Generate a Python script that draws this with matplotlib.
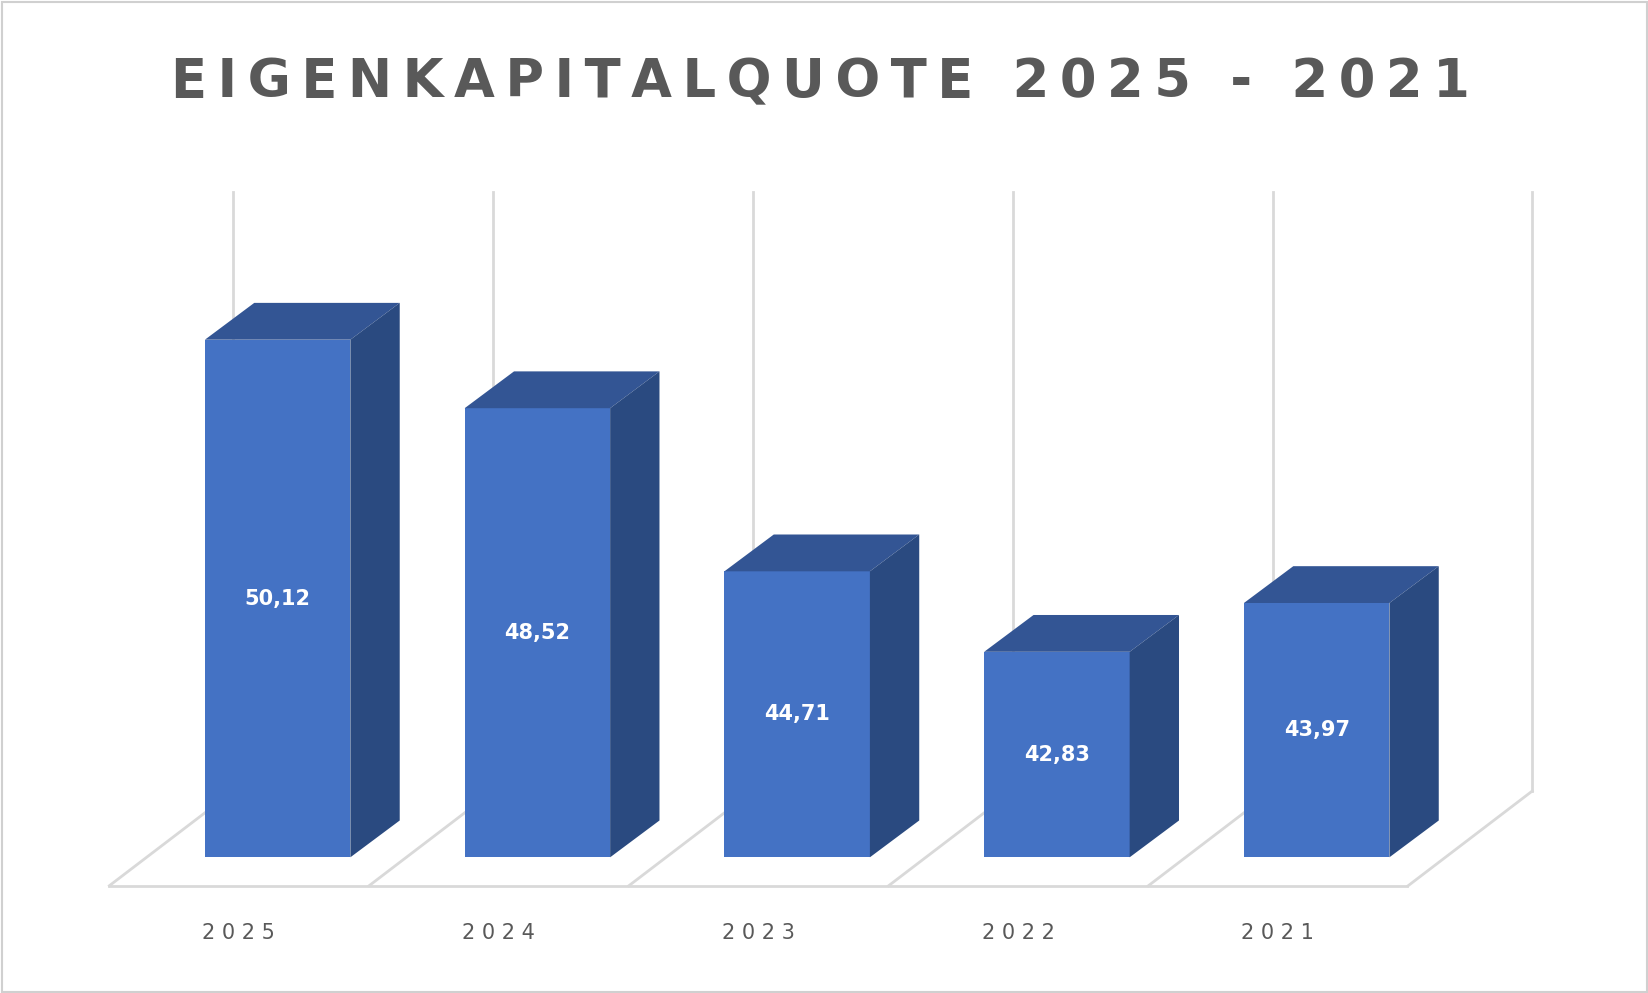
import matplotlib.pyplot as plt
from matplotlib.patches import Polygon, Rectangle

years = ["2025", "2024", "2023", "2022", "2021"]
values = [50.12, 48.52, 44.71, 42.83, 43.97]
labels = ["50,12", "48,52", "44,71", "42,83", "43,97"]

BASE = 38.03          # value at the floor
W = 0.56              # bar width (category units)
DX, DY = 0.19, 0.86   # depth offset
FRONT = "#4472C4"
TOP = "#335594"
SIDE = "#2A4A80"
GRID = "#D9D9D9"

# reference is 1568x944 px: pixel helpers for decoration only
X0, XS = 264, 247
Y0, YS = 815, 40.7


def px(x, y):
    return (x - X0) / XS, BASE + (Y0 - y) / YS


fig = plt.figure(figsize=(16.49, 9.93), dpi=100)
ax = fig.add_axes([0, 0, 1, 1])
ax.set_xlim(px(0, 0)[0], px(1568, 0)[0])
ax.set_ylim(px(0, 944)[1], px(0, 0)[1])
ax.axis("off")

# frame
ax.add_patch(Rectangle((0.001, 0.001), 0.998, 0.997, transform=ax.transAxes,
                       fill=False, ec="#D0D0D0", lw=1.5))

# back gridlines and floor
for k in range(6):
    gx = 222 + 247 * k
    ax.plot(*zip(px(gx, 183), px(gx, 752)), color=GRID, lw=2, zorder=1)
    ax.plot(*zip(px(gx, 752), px(gx - 118, 842)), color=GRID, lw=2, zorder=1)
ax.plot(*zip(px(104, 842), px(1338, 842)), color=GRID, lw=2, zorder=1)

# bars
xs = list(range(len(values)))
heights = [v - BASE for v in values]
ax.bar(xs, heights, bottom=BASE, width=W, color=FRONT, zorder=3)
for i, v in enumerate(values):
    l, r = i - W / 2, i + W / 2
    ax.add_patch(Polygon([(l, v), (r, v), (r + DX, v + DY), (l + DX, v + DY)],
                         closed=True, fc=TOP, ec="none", zorder=3))
    ax.add_patch(Polygon([(r, BASE), (r + DX, BASE + DY), (r + DX, v + DY), (r, v)],
                         closed=True, fc=SIDE, ec="none", zorder=3))
    ax.text(i, (v + BASE) / 2, labels[i], color="white", fontsize=15,
            fontweight="bold", ha="center", va="center", zorder=4)
    ax.text(i - 0.15, px(0, 887)[1], "\u200a".join(years[i]) if False else " ".join(years[i]),
            color="#595959", fontsize=15, ha="center", va="center")

title = "EIGENKAPITALQUOTE 2025 - 2021"
ax.text(*px(780, 78), "\u2009".join(title), color="#595959", fontsize=38,
        fontweight="bold", ha="center", va="center")

fig.savefig("out.png", dpi=100)
